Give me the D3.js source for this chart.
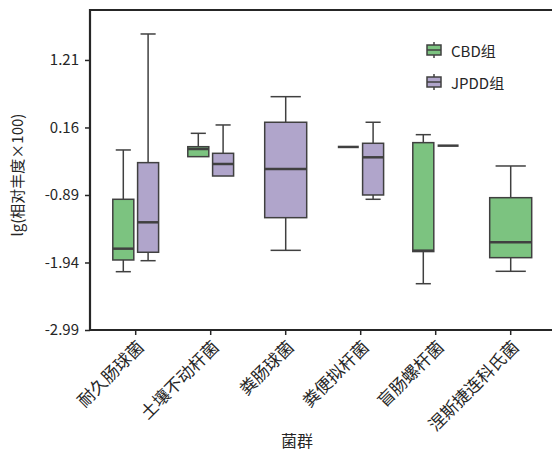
<!DOCTYPE html>
<html>
<head>
<meta charset="utf-8">
<script src="https://d3js.org/d3.v7.min.js"></script>
<style>
  body { margin: 0; background: #fff; }
  svg text { font-family: "Noto Sans CJK SC", "Noto Sans", sans-serif; fill: #262626; }
</style>
</head>
<body>
<div id="chart"></div>
<script>
// categories and groups
var categories = ['耐久肠球菌', '土壤不动杆菌', '粪肠球菌', '粪便拟杆菌', '盲肠螺杆菌', '涅斯捷连科氏菌'];
var groups = ['CBD组', 'JPDD组'];
var yTicks = [-2.99, -1.94, -0.89, 0.16, 1.21];

// box stats per category: [min, q1, median, q3, max], null = no data
var cbdStats = [
  [-2.083, -1.901, -1.725, -0.957, -0.19],
  [-0.294, -0.294, -0.175, -0.139, 0.069],
  null,
  [-0.143, -0.143, -0.143, -0.143, -0.143],
  [-2.27, -1.77, -1.756, -0.076, 0.048],
  [-2.077, -1.865, -1.626, -0.932, -0.439]
];
var jpddStats = [
  [-1.912, -1.781, -1.315, -0.387, 1.614],
  [-0.595, -0.595, -0.408, -0.242, 0.199],
  [-1.751, -1.243, -0.486, 0.241, 0.639],
  [-0.957, -0.89, -0.304, -0.086, 0.241],
  [-0.123, -0.123, -0.123, -0.123, -0.123],
  null
];

var colors = { 'CBD组': '#7cc380', 'JPDD组': '#b0a5cb' };
var edge = '#404040';

var W = 552, H = 452;
var mLeft = 90, mRight = 552, mTop = 10, mBottom = 330;

var svg = d3.select('#chart').append('svg')
  .attr('width', W).attr('height', H);

var x = d3.scaleBand()
  .domain(categories)
  .range([98.2, 548.2]);

var xSub = d3.scaleBand()
  .domain(groups)
  .range([-24.8, 24.8]);

var y = d3.scaleLinear()
  .domain([-2.99, 1.987])
  .range([mBottom, mTop]);

// build box list
var boxes = [];
categories.forEach(function(c, i) {
  var present = [];
  if (cbdStats[i]) present.push({ g: 'CBD组', s: cbdStats[i] });
  if (jpddStats[i]) present.push({ g: 'JPDD组', s: jpddStats[i] });
  present.forEach(function(p) {
    var cx = x(c) + x.bandwidth() / 2;
    var w;
    if (present.length === 2) {
      cx += xSub(p.g) + xSub.bandwidth() / 2;
      w = 21;
    } else {
      w = 42;
    }
    boxes.push({ cat: c, g: p.g, s: p.s, cx: cx, w: w });
  });
});

var bg = svg.append('g');

var b = bg.selectAll('g.box').data(boxes).enter().append('g').attr('class', 'box');

// whiskers
b.append('line')
  .attr('x1', function(d) { return d.cx; }).attr('x2', function(d) { return d.cx; })
  .attr('y1', function(d) { return y(d.s[4]); }).attr('y2', function(d) { return y(d.s[3]); })
  .attr('stroke', edge).attr('stroke-width', 1.5);
b.append('line')
  .attr('x1', function(d) { return d.cx; }).attr('x2', function(d) { return d.cx; })
  .attr('y1', function(d) { return y(d.s[1]); }).attr('y2', function(d) { return y(d.s[0]); })
  .attr('stroke', edge).attr('stroke-width', 1.5);
// caps
[0, 4].forEach(function(k) {
  b.filter(function(d) { return d.s[k] !== d.s[k === 0 ? 1 : 3]; })
    .append('line')
    .attr('x1', function(d) { return d.cx - d.w * 0.36; })
    .attr('x2', function(d) { return d.cx + d.w * 0.36; })
    .attr('y1', function(d) { return y(d.s[k]); })
    .attr('y2', function(d) { return y(d.s[k]); })
    .attr('stroke', edge).attr('stroke-width', 1.5);
});
// box
b.append('rect')
  .attr('x', function(d) { return d.cx - d.w / 2; })
  .attr('y', function(d) { return y(d.s[3]); })
  .attr('width', function(d) { return d.w; })
  .attr('height', function(d) { return y(d.s[1]) - y(d.s[3]); })
  .attr('fill', function(d) { return colors[d.g]; })
  .attr('stroke', edge).attr('stroke-width', 1.5);
// median
b.append('line')
  .attr('x1', function(d) { return d.cx - d.w / 2; })
  .attr('x2', function(d) { return d.cx + d.w / 2; })
  .attr('y1', function(d) { return y(d.s[2]); })
  .attr('y2', function(d) { return y(d.s[2]); })
  .attr('stroke', edge).attr('stroke-width', 2.5);

// y axis
var yAxis = svg.append('g')
  .attr('transform', 'translate(' + mLeft + ',0)')
  .call(d3.axisLeft(y).tickValues(yTicks).tickSize(5).tickPadding(6));
yAxis.select('.domain').remove();
yAxis.selectAll('.tick line').attr('stroke', '#262626').attr('stroke-width', 1.5);
yAxis.selectAll('.tick text').style('font-size', '15px')
  .text(function(d) { return d3.format('.2f')(d).replace('−', '-'); });

// x axis
var xAxis = svg.append('g')
  .attr('transform', 'translate(0,' + mBottom + ')')
  .call(d3.axisBottom(x).tickSize(5).tickSizeOuter(0));
xAxis.select('.domain').remove();
xAxis.selectAll('.tick line').attr('stroke', '#262626').attr('stroke-width', 1.5);
xAxis.selectAll('.tick text')
  .style('font-size', '17px')
  .attr('text-anchor', 'end')
  .attr('dy', '0.35em')
  .attr('y', 0)
  .attr('transform', 'translate(5,14) rotate(-45)');

// spines
var sp = svg.append('g').attr('stroke', '#262626').attr('stroke-width', 2.2).attr('fill', 'none');
sp.append('line').attr('x1', mLeft).attr('x2', mLeft).attr('y1', mTop - 1).attr('y2', mBottom + 1);
sp.append('line').attr('x1', mLeft - 1).attr('x2', mRight).attr('y1', mBottom).attr('y2', mBottom);
sp.append('line').attr('x1', mLeft - 1).attr('x2', mRight).attr('y1', mTop).attr('y2', mTop);

// axis titles
svg.append('text')
  .attr('transform', 'translate(19,' + ((mTop + mBottom) / 2 + 5) + ') rotate(-90)')
  .attr('text-anchor', 'middle')
  .attr('dominant-baseline', 'middle')
  .style('font-size', '15px')
  .text('lg(相对丰度×100)');
svg.append('text')
  .attr('x', 297).attr('y', 447)
  .attr('text-anchor', 'middle')
  .style('font-size', '16px')
  .text('菌群');

// legend
var lg = svg.append('g').attr('transform', 'translate(427,50)');
groups.forEach(function(g, i) {
  var row = lg.append('g').attr('transform', 'translate(0,' + (i * 32) + ')');
  row.append('line').attr('x1', 7).attr('x2', 7).attr('y1', -8).attr('y2', 8)
    .attr('stroke', edge).attr('stroke-width', 1.5);
  row.append('rect').attr('x', 0).attr('y', -5).attr('width', 14).attr('height', 10)
    .attr('fill', colors[g]).attr('stroke', edge).attr('stroke-width', 1.5);
  row.append('line').attr('x1', 0).attr('x2', 14).attr('y1', 0).attr('y2', 0)
    .attr('stroke', edge).attr('stroke-width', 1.5);
  row.append('text').attr('x', 24).attr('y', 0)
    .attr('dominant-baseline', 'central')
    .style('font-size', '15px')
    .text(g);
});
</script>
</body>
</html>
